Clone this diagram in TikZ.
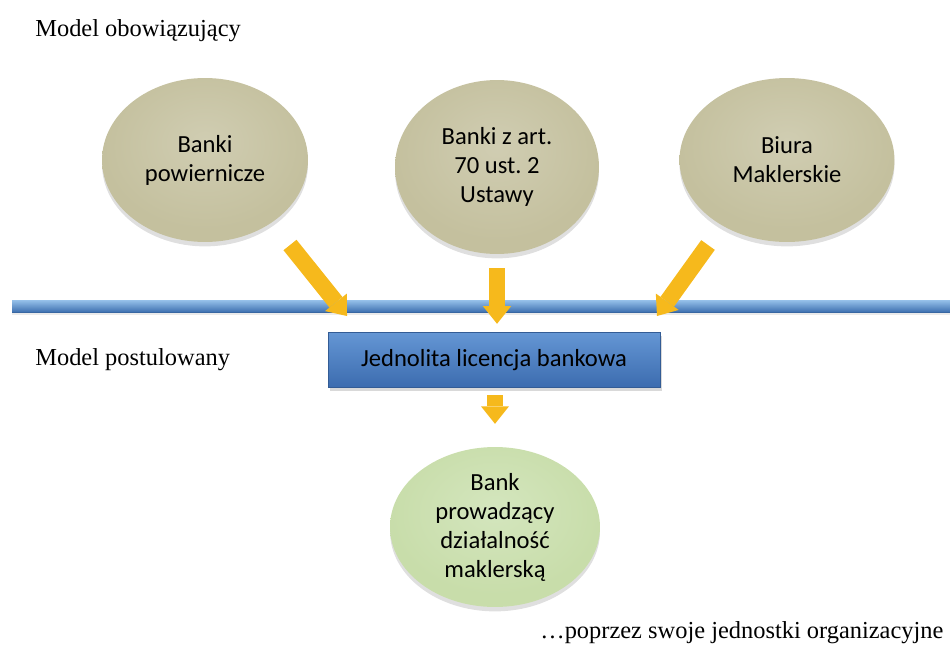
\documentclass[tikz,border=0pt]{standalone}
\usepackage{fontspec}
\setmainfont{Liberation Serif}
\newfontfamily\calibri{Carlito}
\usetikzlibrary{shapes.geometric,arrows.meta,shadows}
\frenchspacing

\definecolor{khaki}{RGB}{196,192,158}
\definecolor{khakiL}{RGB}{208,205,178}
\definecolor{khakiD}{RGB}{165,160,124}
\definecolor{sage}{RGB}{200,221,170}
\definecolor{sageL}{RGB}{212,230,190}
\definecolor{sageD}{RGB}{165,195,130}
\definecolor{gold}{RGB}{246,185,28}
\definecolor{blueL}{RGB}{100,150,212}
\definecolor{blueD}{RGB}{60,108,175}
\definecolor{lineL}{RGB}{150,193,234}
\definecolor{lineD}{RGB}{62,112,176}

\pgfdeclareradialshading{khakiball}{\pgfpoint{0bp}{6bp}}{color(0bp)=(khakiL); color(25bp)=(khaki); color(46bp)=(khaki); color(50bp)=(khakiD); color(70bp)=(khakiD)}
\pgfdeclareradialshading{sageball}{\pgfpoint{0bp}{6bp}}{color(0bp)=(sageL); color(25bp)=(sage); color(46bp)=(sage); color(50bp)=(sageD); color(70bp)=(sageD)}

\begin{document}
\begin{tikzpicture}[x=0.02cm, y=-0.02cm,
    serif/.style={inner sep=0pt, font=\fontsize{13.9}{16}\selectfont},
    oval/.style={ellipse, inner sep=0pt, align=center,
        font=\calibri\fontsize{14}{16.5}\selectfont,
        drop shadow={opacity=0.25, shadow xshift=0pt, shadow yshift=-2.5pt}},
    oldoval/.style={oval, shading=khakiball},
    newoval/.style={oval, shading=sageball},
    licbox/.style={rectangle, minimum width=6.64cm, minimum height=1.1cm,
        top color=blueL, bottom color=blueD, draw=blueD!85!black, line width=0.3pt,
        font=\calibri\fontsize{14}{16.5}\selectfont,
        drop shadow={opacity=0.3, shadow xshift=1pt, shadow yshift=-2pt}},
    arr/.style={draw=gold, line width=9.5pt,
        -{Triangle[length=10pt, width=16pt, line width=0pt]}}]
    \useasboundingbox (0,0) rectangle (950,646);

    % dzisiejszy model
    \node[serif, anchor=base west] (obow) at (35,36) {Model obowiązujący};
    \node[oldoval, minimum width=4.12cm, minimum height=3.28cm] (powier) at (205,160) {Banki\\powiernicze};
    \node[oldoval, minimum width=4.08cm, minimum height=3.48cm] (art70) at (497,167) {Banki z art.\\70 ust. 2\\Ustawy};
    \node[oldoval, minimum width=4.3cm, minimum height=3.28cm] (biura) at (787,160) {Biura\\Maklerskie};

    % linia podziału
    \shade[top color=lineL, bottom color=lineD] (12,300) rectangle (950,312);
    \fill[black, opacity=0.08] (12,312) rectangle (950,315);

    % model postulowany
    \node[serif, anchor=base west] (post) at (35,365) {Model postulowany};
    \node[licbox] (licencja) at (494,360) {Jednolita licencja bankowa};
    \node[newoval, minimum width=4.2cm, minimum height=3.2cm] (bank) at (495,527) {Bank\\prowadzący\\działalność\\maklerską};
    \node[serif, anchor=base west] (jedn) at (540,638) {\ldots poprzez swoje jednostki organizacyjne};

    % strzałki
    \coordinate (fromL) at (290,245);
    \coordinate (toL) at (347,316);
    \coordinate (fromR) at (708,245);
    \coordinate (toR) at (657,316);
    \draw[arr] (fromL) -- (toL);
    \draw[arr] (fromR) -- (toR);
    \draw[arr, shorten <=8pt, shorten >=4.8pt] (art70.south) -- (art70.south |- licencja.north);
    \draw[arr, shorten <=4.3pt, shorten >=13pt] (licencja.south -| bank.north) -- (bank.north);
\end{tikzpicture}
\end{document}
